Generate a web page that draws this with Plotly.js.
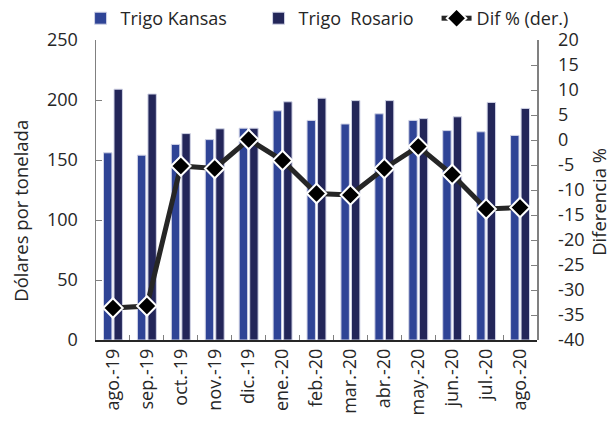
<!DOCTYPE html>
<html><head><meta charset="utf-8">
<script src="https://cdn.plot.ly/plotly-3.0.1.min.js"></script>
<style>body{margin:0;padding:0;background:#fff}#c{width:612px;height:421px}</style>
</head><body><div id="c"></div>
<script>
const categories = ["ago.-19","sep.-19","oct.-19","nov.-19","dic.-19","ene.-20","feb.-20","mar.-20","abr.-20","may.-20","jun.-20","jul.-20","ago.-20"];
const kansas  = [156, 154, 163, 167, 176.5, 191, 183, 180, 188.5, 183, 174.5, 173.5, 170.5];
const rosario = [209, 205, 172, 176, 176.5, 198.5, 201.5, 199.5, 199.5, 184.5, 186, 198, 193];
const difPct  = [-33.6, -33.2, -5.2, -5.7, 0.1, -4.1, -10.7, -11, -5.7, -1.3, -6.9, -13.8, -13.5];
const leftTicks = [0, 50, 100, 150, 200, 250];
const rightTicks = [-40, -35, -30, -25, -20, -15, -10, -5, 0, 5, 10, 15, 20];
const rightTickText = ["-40", "-35", "-30", "-25", "-20", "-15", "-10", "-5", "0", "5", "10", "15", "20"];
const leftTitle = "Dólares por tonelada";
const rightTitle = "Diferencia %";

const font = {family: "Open Sans, sans-serif", size: 18, color: "#262626"};
const traces = [
  {type: "bar", name: "Trigo Kansas", x: categories, y: kansas,
   marker: {color: "#2F4496", line: {color: "#D0D3E6", width: 1}}},
  {type: "bar", name: "Trigo  Rosario", x: categories, y: rosario,
   marker: {color: "#232659", line: {color: "#D0D3E6", width: 1}}},
  {type: "scatter", mode: "lines+markers", name: "Dif % (der.)", x: categories, y: difPct, yaxis: "y2",
   line: {color: "#262626", width: 5},
   marker: {symbol: "diamond", size: 15, color: "#000000", line: {color: "#FFFFFF", width: 2}}}
];
const layout = {
  width: 612, height: 421,
  margin: {l: 96, r: 75, t: 40, b: 81, autoexpand: false},
  paper_bgcolor: "#fff", plot_bgcolor: "#fff",
  font: font,
  barmode: "group", bargap: 0.38, bargroupgap: 0.2,
  showlegend: true,
  legend: {orientation: "h", x: -0.035, xanchor: "left",
           y: 1.01, yanchor: "bottom",
           font: {family: "Open Sans, sans-serif", size: 18, color: "#262626"},
           entrywidth: 133, entrywidthmode: "pixels",
           traceorder: "normal", tracegroupgap: 0, bgcolor: "rgba(0,0,0,0)"},
  xaxis: {type: "category", range: [-0.5, categories.length - 0.5], tickangle: -90,
          showline: true, linecolor: "#262626", linewidth: 1.5,
          ticks: "inside", tickson: "boundaries", ticklen: 5, tickcolor: "#808080", automargin: false,
          showgrid: false, zeroline: false, tickfont: font, mirror: false},
  yaxis: {range: [0, 250], tickvals: leftTicks, ticks: "inside", ticklen: 6, tickcolor: "#808080",
          showline: true, linecolor: "#808080", linewidth: 1.5, showgrid: false, zeroline: false,
          tickfont: font, automargin: false, ticklabelstandoff: 13},
  yaxis2: {overlaying: "y", side: "right", anchor: "free", position: 1, range: [-40, 20],
           tickvals: rightTicks, ticktext: rightTickText,
           ticks: "inside", ticklen: 6, tickcolor: "#808080", automargin: false,
           showline: true, linecolor: "#808080", linewidth: 1.5, showgrid: false, zeroline: false,
           tickfont: font, ticklabelstandoff: 16},
  annotations: [
    {text: leftTitle, xref: "paper", yref: "paper", x: -0.173, y: 0.43, xanchor: "center", yanchor: "middle",
     textangle: -90, showarrow: false, font: {family: "Open Sans, sans-serif", size: 18.5, color: "#262626"}},
    {text: rightTitle, xref: "paper", yref: "paper", x: 1.138, y: 0.46, xanchor: "center", yanchor: "middle",
     textangle: -90, showarrow: false, font: {family: "Open Sans, sans-serif", size: 18.5, color: "#262626"}}
  ]
};
Plotly.newPlot("c", traces, layout, {displayModeBar: false, staticPlot: true});
</script>
</body></html>
